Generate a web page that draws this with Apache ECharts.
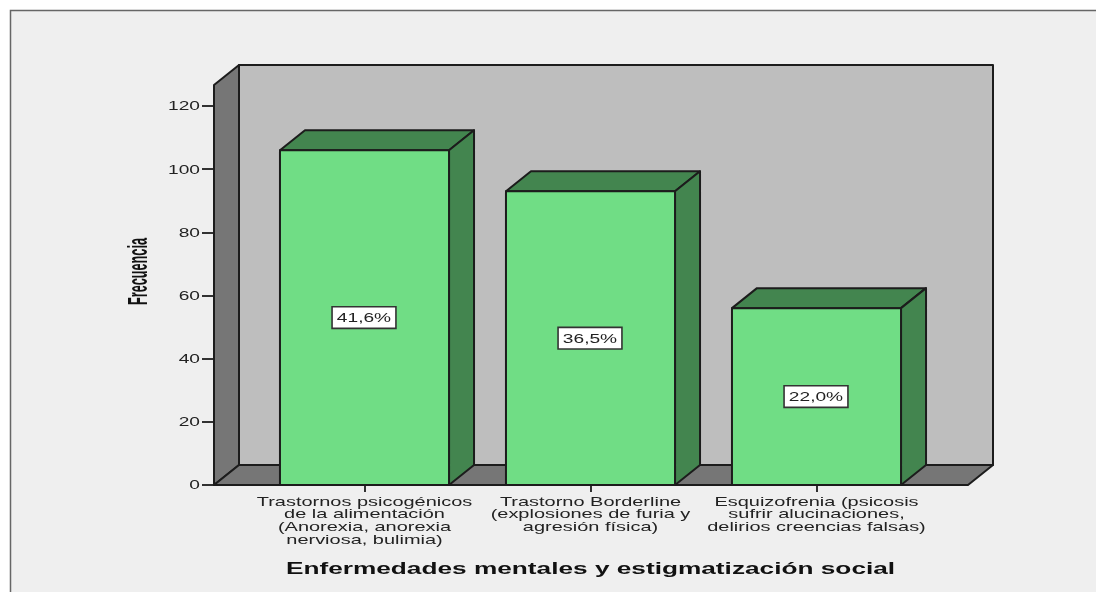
<!DOCTYPE html>
<html><head><meta charset="utf-8">
<style>
html,body{margin:0;padding:0;background:#fff}
#c{width:1096px;height:592px;filter:blur(0.45px)}
</style>
<script src="https://cdn.jsdelivr.net/npm/echarts@6/dist/echarts.min.js"></script>
</head><body><div id="c"></div>
<script>
const categories = [
  "Trastornos psicogénicos\nde la alimentación\n(Anorexia, anorexia\nnerviosa, bulimia)",
  "Trastorno Borderline\n(explosiones de furia y\nagresión física)",
  "Esquizofrenia (psicosis\nsufrir alucinaciones,\ndelirios creencias falsas)"
];
const frequencies = [106, 93, 56];
const percentLabels = ["41,6%", "36,5%", "22,0%"];
const axisName = "Frecuencia";
const xTitle = "Enfermedades mentales y estigmatización social";

const DX = 25, DY = 20, EDGE = '#1c1c1c', LW = 2;
const WALL_TOP = 126.67;
const COL = {front:'#70DD85', side:'#43854F', wall:'#BEBEBE', dark:'#767676', bg:'#EFEFEF'};
const line = {stroke:EDGE, lineWidth:LW, lineJoin:'round'};
const FONT = 'Liberation Sans';

function poly(points, fill){
  return {type:'polygon', shape:{points}, style:Object.assign({fill}, line)};
}
function renderRoom(params, api){
  const cs = params.coordSys;
  const l = cs.x - 37.5, r = cs.x + cs.width + 38.5;
  const b = cs.y + cs.height, t = api.coord([0, WALL_TOP])[1];
  return {type:'group', children:[
    poly([[l+DX,t-DY],[r+DX,t-DY],[r+DX,b-DY],[l+DX,b-DY]], COL.wall),
    poly([[l,t],[l+DX,t-DY],[l+DX,b-DY],[l,b]], COL.dark),
    poly([[l,b],[l+DX,b-DY],[r+DX,b-DY],[r,b]], COL.dark)
  ]};
}
function renderBar(params, api){
  const i = api.value(0), p = api.coord([i, api.value(1)]), b = api.coord([i, 0]);
  const w = api.size([1, 0])[0] * 0.748;
  const x0 = p[0]-w/2, x1 = p[0]+w/2, y0 = p[1], y1 = b[1];
  return {type:'group', children:[
    poly([[x0,y0],[x0+DX,y0-DY],[x1+DX,y0-DY],[x1,y0]], COL.side),
    poly([[x1,y0],[x1+DX,y0-DY],[x1+DX,y1-DY],[x1,y1]], COL.side),
    poly([[x0,y0],[x1,y0],[x1,y1],[x0,y1]], COL.front),
    {type:'text', style:{
      text:percentLabels[i], x:p[0]-0.5, y:(y0+y1)/2, align:'center', verticalAlign:'middle',
      fontFamily:FONT, fontSize:13.5, fill:'#222',
      backgroundColor:'#fff', borderColor:'#333', borderWidth:1.6, padding:[3,12,3,12]
    }}
  ]};
}

const chart = echarts.init(document.getElementById('c'), null, {renderer:'svg', width:1096, height:592});
chart.setOption({
  animation:false,
  backgroundColor:'#fff',
  graphic:[{type:'rect', z:-10, silent:true, shape:{x:10.5,y:10.5,width:1100,height:600},
    style:{fill:COL.bg, stroke:'#666', lineWidth:1.5}}],
  grid:{left:251.5, width:678, top:106, height:379},
  xAxis:{
    type:'category', data:categories,
    axisLine:{show:false},
    axisTick:{show:true, alignWithLabel:true, length:7, lineStyle:{color:EDGE, width:1.8}},
    axisLabel:{interval:0, color:'#222', fontFamily:FONT, fontSize:12.6, lineHeight:12.7, margin:10, align:'center', verticalAlign:'top'},
    name:xTitle, nameLocation:'middle', nameGap:75,
    nameTextStyle:{fontFamily:FONT, fontWeight:'bold', fontSize:16.5, color:'#111'}
  },
  yAxis:{
    type:'value', min:0, max:120, interval:20, offset:37.5,
    splitLine:{show:false},
    axisLine:{show:false},
    axisTick:{show:true, length:12, lineStyle:{color:EDGE, width:1.8}},
    axisLabel:{color:'#222', fontFamily:FONT, fontSize:13.5, margin:14},
    name:axisName, nameLocation:'middle', nameGap:63, nameRotate:90,
    nameTextStyle:{fontFamily:FONT, fontWeight:'bold', fontSize:27, color:'#111', padding:[0,0,0,48]}
  },
  series:[
    {type:'custom', coordinateSystem:'cartesian2d', silent:true, z:1, data:[[0,0]], renderItem:renderRoom, clip:false},
    {type:'custom', coordinateSystem:'cartesian2d', silent:true, z:2, data:frequencies.map((v,i)=>[i,v]), renderItem:renderBar, clip:false}
  ]
});
// The reference's text is horizontally stretched (the Frecuencia title is squeezed): scale each text along its own baseline, about its own anchor.
const categoryLines = categories.join('\n').split('\n');
document.querySelectorAll('#c text').forEach(function(el){
  const s = el.textContent;
  const sx = s === axisName ? 0.47 : s === xTitle ? 1.59 : categoryLines.includes(s) ? 1.585 : 1.42;
  const x = parseFloat(el.getAttribute('x')||0);
  el.setAttribute('transform', (el.getAttribute('transform')||'') + ' translate(' + x + ' 0) scale(' + sx + ',1) translate(' + (-x) + ' 0)');
});
</script></body></html>
